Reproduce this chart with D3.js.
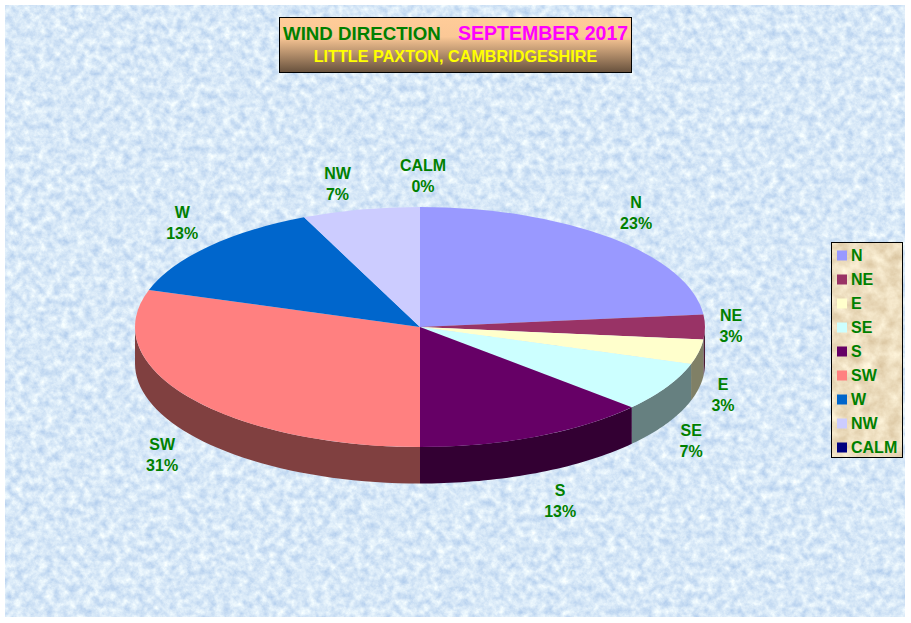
<!DOCTYPE html>
<html>
<head>
  <meta charset="utf-8">
  <script src="https://d3js.org/d3.v7.min.js"></script>
  <style type="text/css">
    html, body {
      margin: 0;
      padding: 0;
      background: #fff;
    }
    svg {
      display: block;
    }
    text {
      font-family: "Liberation Sans", Arial, sans-serif;
      font-weight: bold;
    }
  </style>
</head>
<body>
<div id="root"></div>

<script type="text/javascript">
const directions = ['N', 'NE', 'E', 'SE', 'S', 'SW', 'W', 'NW', 'CALM'];
// days in the month per direction
const days = [7, 1, 1, 2, 4, 9, 4, 2, 0];
// labels as printed on the chart (SW is 31 not 30 there)
const percentLabels = ['23%', '3%', '3%', '7%', '13%', '31%', '13%', '7%', '0%'];
const sliceColors = ['#9999ff', '#993366', '#ffffcc', '#ccffff', '#660066', '#ff8080', '#0066cc', '#ccccff', '#000080'];
// hand nudges for the data labels, the chart package places them a bit unevenly
const labelNudgeX = [2, -9, -10, -6, 10, 1, 0, -16, 3];
const labelNudgeY = [-1, -1, 28, 19, 0, 16, -2, 6, 1];

const width = 911, height = 623;
const cx = 420, cy = 327, rx = 285, ry = 120, depth = 36.5;

const svg = d3.select('#root').append('svg')
  .attr('width', width)
  .attr('height', height);

const defs = svg.append('defs');

// paper textures, same idea as the tiled background image
function texture(id, freq, matrix) {
  const f = defs.append('filter').attr('id', id)
    .attr('x', 0).attr('y', 0).attr('width', 1).attr('height', 1)
    .attr('color-interpolation-filters', 'sRGB');
  f.append('feTurbulence')
    .attr('type', 'fractalNoise')
    .attr('baseFrequency', freq)
    .attr('numOctaves', 4)
    .attr('seed', 7);
  f.append('feColorMatrix')
    .attr('type', 'matrix')
    .attr('values', matrix);
}
texture('bgTex', 0.13,
  '0.36 0 0 0 0.665  0.26 0 0 0 0.78  0.10 0 0 0 0.92  0 0 0 0 1');
texture('legendTex', 0.08,
  '0.20 0 0 0 0.83  0.26 0 0 0 0.74  0.32 0 0 0 0.59  0 0 0 0 1');

const titleGrad = defs.append('linearGradient').attr('id', 'titleGrad')
  .attr('x1', 0).attr('y1', 0).attr('x2', 0).attr('y2', 1);
titleGrad.append('stop').attr('offset', '0%').attr('stop-color', '#ffcc99');
titleGrad.append('stop').attr('offset', '35%').attr('stop-color', '#fbc896');
titleGrad.append('stop').attr('offset', '100%').attr('stop-color', '#66503c');

svg.append('rect')
  .attr('x', 5).attr('y', 5)
  .attr('width', 900).attr('height', 612)
  .attr('filter', 'url(#bgTex)');

// pie
const color = d3.scaleOrdinal().domain(directions).range(sliceColors);
const pie = d3.pie().sort(null).value((d, i) => days[i]);
const slices = pie(directions);

const sx = d3.scaleLinear().domain([-1, 1]).range([cx - rx, cx + rx]);
const sy = d3.scaleLinear().domain([-1, 1]).range([cy - ry, cy + ry]);

// side wall, only the front half of the rim can be seen
const rim = d3.line()
  .x(d => d.x)
  .y(d => d.y);

function wallPath(a0, a1) {
  const steps = d3.range(0, 41).map(i => a0 + (a1 - a0) * i / 40);
  const top = steps.map(a => ({ x: sx(Math.sin(a)), y: sy(-Math.cos(a)) }));
  const bottom = top.slice().reverse().map(p => ({ x: p.x, y: p.y + depth }));
  return rim(top.concat(bottom)) + 'Z';
}

function halfColor(c) {
  const col = d3.rgb(c);
  return d3.rgb(col.r * 0.5, col.g * 0.5, col.b * 0.5).formatHex();
}

const front = slices.filter(d => d.endAngle > Math.PI / 2 && d.startAngle < 1.5 * Math.PI && d.value > 0);

svg.append('g').selectAll('path').data(front)
  .enter()
  .append('path')
  .attr('d', d => wallPath(Math.max(d.startAngle, Math.PI / 2), Math.min(d.endAngle, 1.5 * Math.PI)))
  .attr('fill', d => halfColor(color(d.data)));

const arc = d3.arc().innerRadius(0).outerRadius(rx);

svg.append('g')
  .attr('transform', `translate(${cx},${cy}) scale(1,${ry / rx})`)
  .selectAll('path').data(slices)
  .enter()
  .append('path')
  .attr('d', arc)
  .attr('fill', d => color(d.data));

// data labels
const labels = svg.append('g').selectAll('text').data(slices)
  .enter()
  .append('text')
  .attr('text-anchor', 'middle')
  .attr('font-size', 16)
  .attr('fill', '#008000')
  .attr('transform', (d, i) => {
    const mid = (d.startAngle + d.endAngle) / 2;
    const x = cx + 320 * Math.sin(mid) + labelNudgeX[i];
    const y = cy - Math.cos(mid) * (Math.cos(mid) > 0 ? 152 : 190) + labelNudgeY[i];
    return `translate(${x},${y})`;
  });
labels.append('tspan').attr('x', 0).attr('y', -5).text(d => d.data);
labels.append('tspan').attr('x', 0).attr('y', 16).text((d, i) => percentLabels[i]);

// title box
svg.append('rect')
  .attr('x', 279.5).attr('y', 17.5)
  .attr('width', 352).attr('height', 55)
  .attr('fill', 'url(#titleGrad)')
  .attr('stroke', '#000');

const title = svg.append('g');
title.append('text')
  .attr('x', 283).attr('y', 40)
  .attr('font-size', 18.7)
  .attr('fill', '#008000')
  .text('WIND DIRECTION');
title.append('text')
  .attr('x', 458).attr('y', 40)
  .attr('font-size', 19.5)
  .attr('fill', '#ff00ff')
  .text('SEPTEMBER 2017');

svg.append('text')
  .attr('x', 455.5).attr('y', 62)
  .attr('text-anchor', 'middle')
  .attr('font-size', 16.2)
  .attr('fill', '#ffff00')
  .text('LITTLE PAXTON, CAMBRIDGESHIRE');

// legend
svg.append('rect')
  .attr('x', 831.5).attr('y', 242.5)
  .attr('width', 71).attr('height', 215)
  .attr('filter', 'url(#legendTex)');
svg.append('rect')
  .attr('x', 831.5).attr('y', 242.5)
  .attr('width', 71).attr('height', 215)
  .attr('fill', 'none')
  .attr('stroke', '#000');

const legendY = d3.scalePoint().domain(directions).range([255.5, 447.5]);

const legendItems = svg.append('g').selectAll('g').data(directions)
  .enter()
  .append('g')
  .attr('transform', d => `translate(837,${legendY(d)})`);
legendItems.append('rect')
  .attr('y', -5).attr('width', 10).attr('height', 10)
  .attr('fill', d => color(d));
legendItems.append('text')
  .attr('x', 14).attr('y', 5.5)
  .attr('font-size', 16)
  .attr('fill', '#008000')
  .text(d => d);
</script>
</body>
</html>
